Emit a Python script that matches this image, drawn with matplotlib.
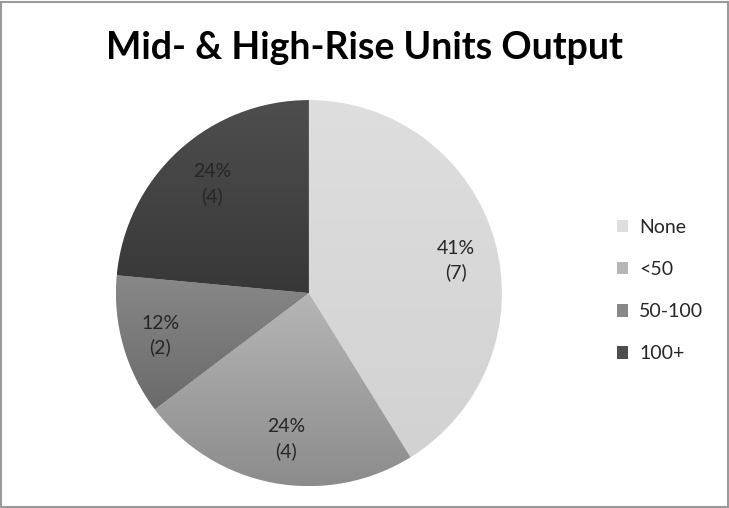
import matplotlib
matplotlib.use("Agg")
import matplotlib.pyplot as plt
import numpy as np
from matplotlib.colors import LinearSegmentedColormap
from matplotlib.patches import Rectangle

title = "Mid- & High-Rise Units Output"
categories = ["None", "<50", "50-100", "100+"]
counts = [7, 4, 2, 4]
# (top, bottom) shade of each slice's vertical gradient
shades = [("#dedede", "#d2d2d2"), ("#b6b6b6", "#8c8c8c"),
          ("#888888", "#6a6a6a"), ("#4e4e4e", "#383838")]
# label placement: radius (fraction of pie radius) and angular nudge in degrees
label_r = [0.78, 0.765, 0.80, 0.757]
label_nudge = [-3.5, 1.8, 0.0, -0.7]

plt.rcParams["font.family"] = ["Lato", "DejaVu Sans"]

fig = plt.figure(figsize=(7.29, 5.08), dpi=100)
fig.patches.append(Rectangle((0.002, 0.002), 0.996, 0.994, transform=fig.transFigure,
                             fill=False, edgecolor="#9a9a9a", linewidth=1.5))

ax = fig.add_axes([0.159, 0.043, 0.5295, 0.760])
total = sum(counts)
wedges, _ = ax.pie(counts, startangle=90, counterclock=False,
                   colors=[s[0] for s in shades], wedgeprops=dict(edgecolor="none"))
ax.set_aspect("equal")

# paint a vertical gradient inside each wedge
for w, (top, bot) in zip(wedges, shades):
    w.set_facecolor("none")
    ext = w.get_path().get_extents()
    cmap = LinearSegmentedColormap.from_list("g", [bot, top])
    grad = np.linspace(0, 1, 256).reshape(-1, 1)
    im = ax.imshow(grad, cmap=cmap, origin="lower", aspect="auto",
                   extent=[ext.x0, ext.x1, ext.y0, ext.y1], zorder=0.5)
    im.set_clip_path(w)

for w, c, r, nudge in zip(wedges, counts, label_r, label_nudge):
    ang = np.deg2rad((w.theta1 + w.theta2) / 2 + nudge)
    ax.text(r * np.cos(ang), r * np.sin(ang), f"{round(100 * c / total)}%\n({c})",
            ha="center", va="center", fontsize=14, color="#262626", linespacing=1.45)

ax.set_xlim(-1, 1)
ax.set_ylim(-1, 1)
ax.axis("off")

fig.text(0.5, 0.905, title, ha="center", va="center", fontsize=27, fontweight="bold")

handles = [Rectangle((0, 0), 1, 1, facecolor=s[0]) for s in shades]
fig.legend(handles, categories, loc="center left", bbox_to_anchor=(0.822, 0.428),
           frameon=False, fontsize=14, handlelength=0.6, handleheight=0.6,
           handletextpad=0.55, labelspacing=1.3, labelcolor="#262626")

fig.savefig("out.png", dpi=100)
